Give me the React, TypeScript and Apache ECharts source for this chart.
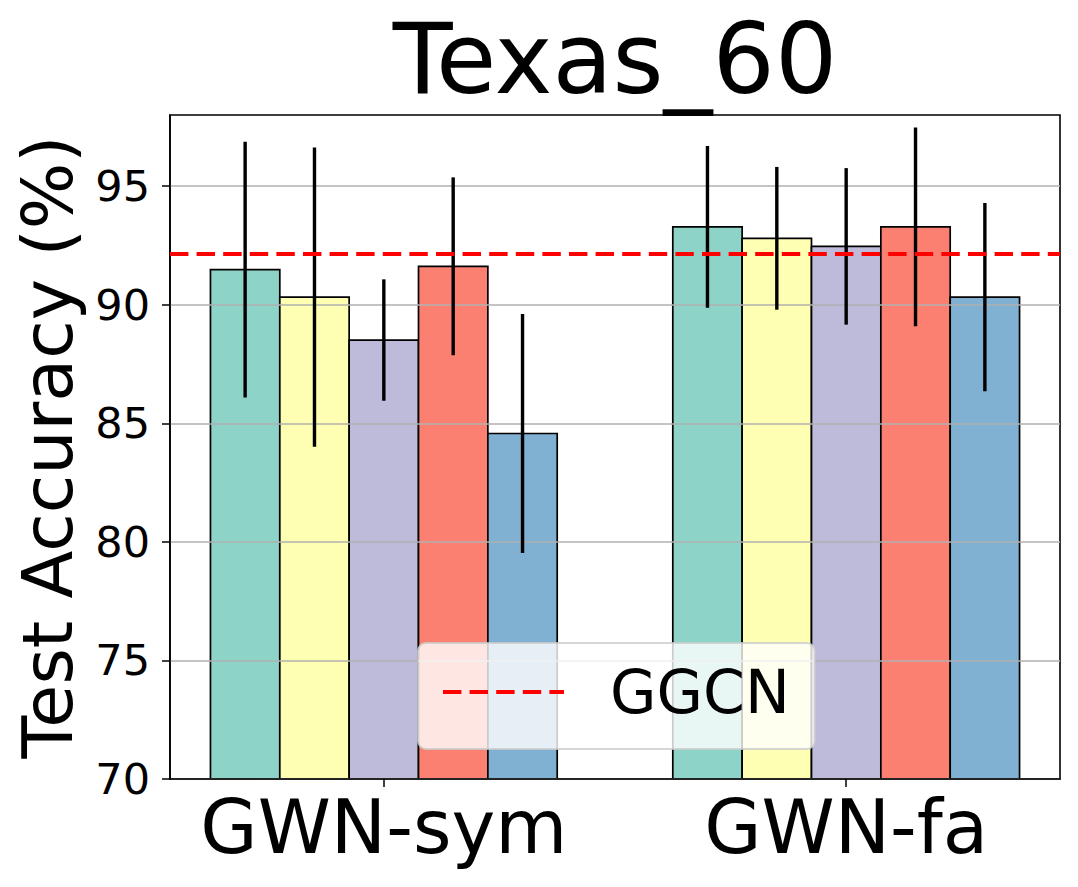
import React, { useEffect, useRef } from "react";
import * as echarts from "echarts";

const categories = ["GWN-sym", "GWN-fa"];
const chartTitle = "Texas_60";
const yAxisTitle = "Test Accuracy (%)";
const yTicks = [70, 75, 80, 85, 90, 95];

// mean accuracy per variant, one value per category
const variantAMean = [91.48, 93.28];
const variantBMean = [90.32, 92.8];
const variantCMean = [88.51, 92.46];
const variantDMean = [91.62, 93.28];
const variantEMean = [84.57, 90.32];
// standard deviation per variant, one value per category
const variantAErr = [5.39, 3.41];
const variantBErr = [6.31, 3.01];
const variantCErr = [2.56, 3.3];
const variantDErr = [3.75, 4.19];
const variantEErr = [5.04, 3.97];

const ggcnName = "GGCN";
const ggcnValue = 92.14;

const variantMeans = [variantAMean, variantBMean, variantCMean, variantDMean, variantEMean];
const variantErrs = [variantAErr, variantBErr, variantCErr, variantDErr, variantEErr];
const colors = ["#8dd3c7", "#ffffb3", "#bebada", "#fb8072", "#80b1d3"];

const BAR_W = 0.15;
const X_MIN = -0.4625;
const X_MAX = 1.4625;
const Y_MIN = 70;
const Y_MAX = 98;
const FONT = "DejaVu Sans";
const DASH = [18.4, 8.2];

export default function App() {
  const ref = useRef<HTMLDivElement>(null);
  useEffect(() => {
    document.body.style.margin = "0";
    if (!ref.current) return;
    const chart = echarts.init(ref.current, null, { renderer: "svg" });

    const barSeries: any[] = [];
    const errSeries: any[] = [];
    variantMeans.forEach((means, vi) => {
      const data = means.map((m, ci) => [ci + (vi - 2) * BAR_W, m, variantErrs[vi][ci]]);
      barSeries.push({
        type: "custom",
        name: "v" + vi,
        z: 1,
        data,
        encode: { x: 0, y: 1 },
        renderItem: (params: any, api: any) => {
          const x = api.value(0);
          const y = api.value(1);
          const p1 = api.coord([x - BAR_W / 2, y]);
          const p2 = api.coord([x + BAR_W / 2, Y_MIN]);
          return {
            type: "rect",
            shape: { x: p1[0], y: p1[1], width: p2[0] - p1[0], height: p2[1] - p1[1] },
            style: { fill: colors[vi], stroke: "#000", lineWidth: 1.7 },
          };
        },
      });
      errSeries.push({
        type: "custom",
        name: "e" + vi,
        z: 4,
        data,
        encode: { x: 0, y: 1 },
        renderItem: (params: any, api: any) => {
          const x = api.value(0);
          const y = api.value(1);
          const e = api.value(2);
          const p1 = api.coord([x, y + e]);
          const p2 = api.coord([x, y - e]);
          return {
            type: "line",
            shape: { x1: p1[0], y1: p1[1], x2: p2[0], y2: p2[1] },
            style: { stroke: "#000", lineWidth: 3.4 },
          };
        },
      });
    });

    chart.setOption({
      animation: false,
      textStyle: { fontFamily: FONT },
      title: {
        text: chartTitle,
        left: 615,
        top: 10,
        textAlign: "center",
        padding: 0,
        textStyle: { fontFamily: FONT, fontSize: 98, fontWeight: "normal", color: "#000" },
      },
      grid: {
        left: 170,
        right: 18,
        top: 115,
        bottom: 108,
        show: true,
        borderColor: "#000",
        borderWidth: 1.6,
        backgroundColor: "transparent",
      },
      legend: {
        data: [ggcnName],
        left: 418,
        top: 643,
        orient: "horizontal",
        padding: [19, 25, 27, 23],
        itemWidth: 121,
        itemHeight: 20,
        backgroundColor: "rgba(255,255,255,0.8)",
        borderColor: "rgba(204,204,204,0.8)",
        borderWidth: 2,
        borderRadius: 8,
        z: 10,
        itemStyle: { opacity: 0 },
        lineStyle: { color: "#ff0000", width: 4, type: DASH, dashOffset: 0 },
        textStyle: { fontFamily: FONT, fontSize: 60, color: "#000", padding: [0, 0, 0, 41] },
      },
      xAxis: {
        type: "value",
        min: X_MIN,
        max: X_MAX,
        z: 5,
        splitLine: { show: false },
        axisLine: { show: true, onZero: false, lineStyle: { color: "#000", width: 1.6 } },
        axisTick: { show: true, customValues: [0, 1], length: 8, lineStyle: { color: "#000", width: 1.5 } },
        axisLabel: {
          customValues: [0, 1],
          formatter: (v: number) => categories[Math.round(v)] ?? "",
          fontFamily: FONT,
          fontSize: 74,
          color: "#000",
          margin: 11,
        },
      },
      yAxis: {
        type: "value",
        min: Y_MIN,
        max: Y_MAX,
        interval: 5,
        z: 2,
        name: yAxisTitle,
        nameLocation: "middle",
        nameGap: 87,
        nameRotate: 90,
        nameTextStyle: { fontFamily: FONT, fontSize: 70, color: "#000" },
        axisLine: { show: true, onZero: false, lineStyle: { color: "#000", width: 1.6 } },
        axisTick: { show: true, customValues: yTicks, length: 8, lineStyle: { color: "#000", width: 1.5 } },
        axisLabel: {
          customValues: yTicks,
          fontFamily: FONT,
          fontSize: 43,
          color: "#000",
          margin: 20,
        },
        splitLine: { show: true, lineStyle: { color: "#b0b0b0", width: 1.5 } },
      },
      series: [
        ...barSeries,
        ...errSeries,
        {
          type: "line",
          name: ggcnName,
          z: 6,
          symbol: "none",
          data: [
            [X_MIN, ggcnValue],
            [X_MAX, ggcnValue],
          ],
          lineStyle: { color: "#ff0000", width: 4, type: DASH },
          itemStyle: { color: "#ff0000" },
        },
      ],
    });
    return () => chart.dispose();
  }, []);
  return <div ref={ref} style={{ width: 1078, height: 887 }} />;
}
